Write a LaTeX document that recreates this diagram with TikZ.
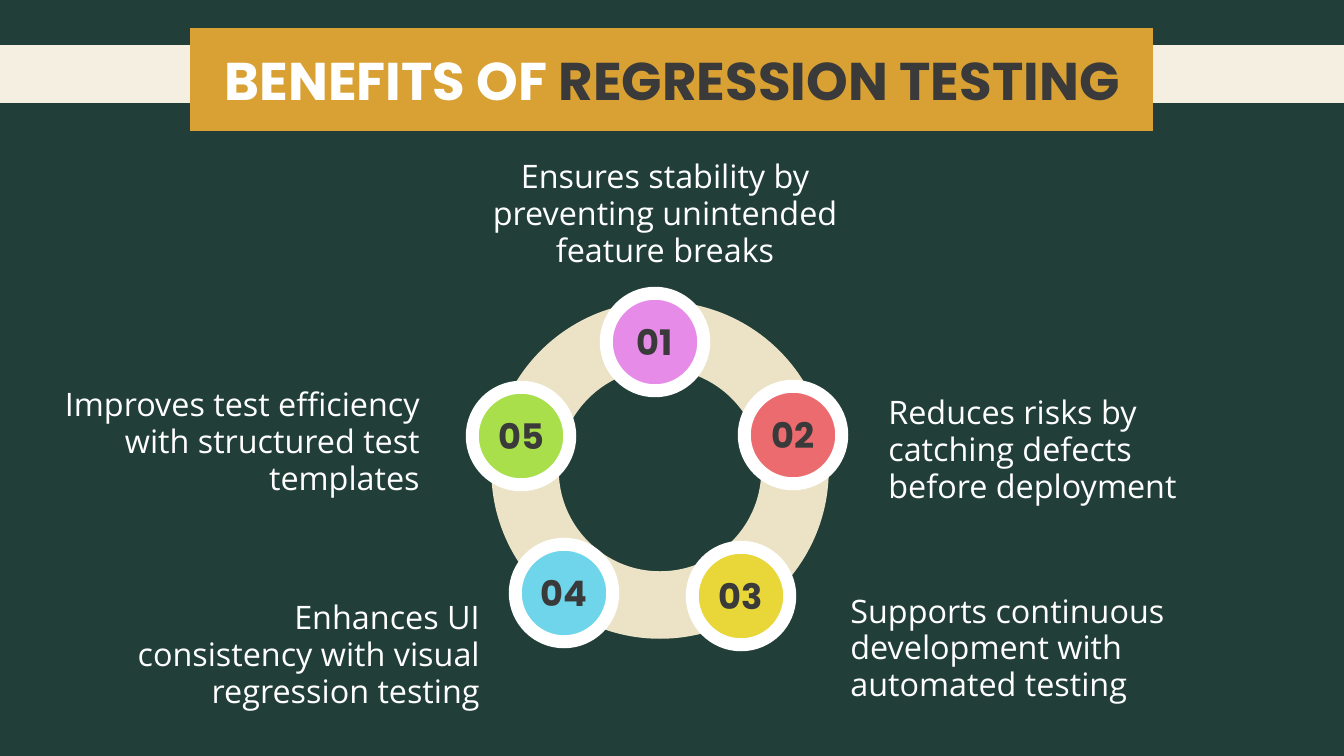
\documentclass[tikz,border=0pt]{standalone}
\usepackage{fontspec}
\setmainfont{Open Sans}
\newfontfamily\titlefont{Poppins}
\usepackage{xcolor}
\usetikzlibrary{positioning}
\definecolor{board}{HTML}{213F38}
\definecolor{cream}{HTML}{F4EFE0}
\definecolor{gold}{HTML}{D9A133}
\definecolor{ink}{HTML}{3A3A3A}
\definecolor{ringc}{HTML}{ECE3C6}
\definecolor{cone}{HTML}{E68BE8}
\definecolor{ctwo}{HTML}{EC6B6E}
\definecolor{cthree}{HTML}{E9D73A}
\definecolor{cfour}{HTML}{6FD5EA}
\definecolor{cfive}{HTML}{A8DF4B}

\begin{document}
\begin{tikzpicture}
        [x=0.02cm,y=-0.02cm,
          ball/.style={circle,draw=white,line width=0.26cm,minimum size=1.95cm,inner sep=0pt,
            font=\titlefont\fontsize{20}{20}\selectfont\bfseries,text=ink},
          benefit/.style={text=white,font=\fontsize{18.4}{20.9}\selectfont,inner sep=0pt}]
        \fill[board] (0,0) rectangle (1344,756);
        \useasboundingbox (0,0) rectangle (1344,756);
        \fill[cream] (0,45) rectangle (1344,103);
        \fill[gold] (190,28) rectangle (1153,131);
        \node[font=\titlefont\fontsize{30.2}{30.2}\selectfont\bfseries] (title) at (672,82)
          {\textcolor{white}{BENEFITS OF} \textcolor{ink}{REGRESSION TESTING}};
        % ring
        \draw[ringc,line width=1.35cm] (660,470) circle (135);
        \node[ball,fill=cone] (b1) at (655,342) {01};
        \node[ball,fill=ctwo] (b2) at (793,435) {02};
        \node[ball,fill=cthree] (b3) at (741,596) {03};
        \node[ball,fill=cfour] (b4) at (564,593) {04};
        \node[ball,fill=cfive] (b5) at (521,436) {05};
        % texts
        \node[benefit,align=center,anchor=north] (t1) at (665,164)
          {Ensures stability by\\preventing unintended\\feature breaks};
        \node[benefit,align=left,anchor=west] (t2) at (888,453)
          {Reduces risks by\\catching defects\\before deployment};
        \node[benefit,align=left,anchor=west] (t3) at (850,652)
          {Supports continuous\\development with\\automated testing};
        \node[benefit,align=right,anchor=east] (t4) at (480,658)
          {Enhances UI\\consistency with visual\\regression testing};
        \node[benefit,align=right,anchor=east] (t5) at (420,445)
          {Improves test efficiency\\with structured test\\templates};
      \end{tikzpicture}
\end{document}
